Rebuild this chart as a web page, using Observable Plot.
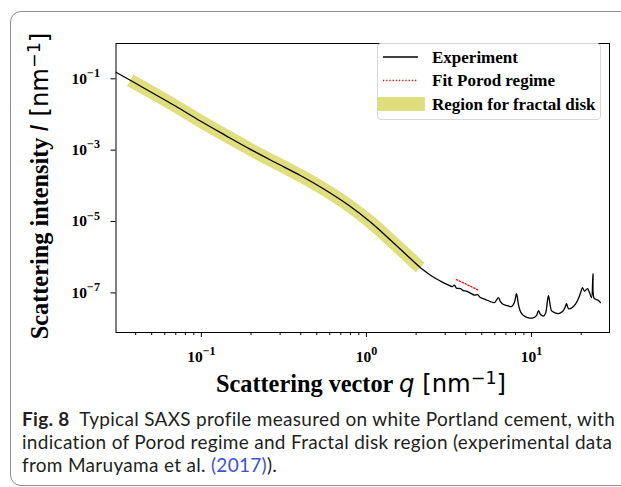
<!DOCTYPE html>
<html><head><meta charset="utf-8">
<script src="https://cdn.jsdelivr.net/npm/d3@7"></script>
<script src="https://cdn.jsdelivr.net/npm/@observablehq/plot@0.6"></script>
<style>
body{margin:0;background:#fff;}
#wrap{position:relative;width:621px;height:487px;overflow:hidden;background:#fff;}
#border{position:absolute;left:10px;top:11px;width:680px;height:475px;border:1.5px solid #8f8f8f;border-radius:11px;box-sizing:border-box;}
#chart{position:absolute;left:0;top:0;}
#legend{position:absolute;left:377px;top:43px;width:224px;height:77px;border:1px solid #d6d6d6;border-radius:4px;background:rgba(255,255,255,0.85);box-sizing:border-box;}
#caption{position:absolute;left:22px;top:407px;white-space:nowrap;font-family:"Lato";font-size:19px;line-height:23px;color:#231f20;letter-spacing:0.3px;}
#caption b{font-weight:bold;}
#caption .ref{color:#3e4fd8;}
</style></head><body>
<div id="wrap"><div id="border"></div><div id="chart"></div><div id="legend"></div>
<div id="caption"><b>Fig. 8</b>&nbsp; Typical SAXS profile measured on white Portland cement, with<br>indication of Porod regime and Fractal disk region (experimental data<br>from Maruyama et al. <span class="ref">(2017)</span>).</div>
</div>
<script>
// Experiment curve: scattering vector q [nm^-1] and intensity I
const expQ = [0.0304,0.0371,0.0491,0.0696,0.0986,0.1398,0.1982,0.2809,0.398,0.5643,0.80,1.057,1.398,1.848,2.215,2.512,2.809,3.097,3.32,3.415,3.512,3.713,3.871,4.037,4.268,4.514,4.707,4.909,5.263,5.643,5.968,6.137,6.31,6.488,6.765,7.155,7.566,7.88,8.11,8.34,8.58,8.94,9.46,10.14,10.72,11.02,11.34,11.82,12.16,12.50,12.68,12.94,13.22,13.79,14.58,15.41,15.96,16.30,16.76,17.47,18.48,19.27,19.95,20.38,20.95,21.85,22.46,23.10,23.59,23.92,24.77,25.47,26.19];
const expI = [0.153,0.0908,0.0435,0.01728,0.00656,0.002606,0.001055,4.50e-4,1.946e-4,7.63e-5,2.63e-5,9.67e-6,3.03e-6,9.16e-7,4.36e-7,2.87e-7,2.14e-7,1.71e-7,1.50e-7,1.66e-7,1.36e-7,1.32e-7,1.16e-7,1.12e-7,9.88e-8,8.68e-8,8.97e-8,7.40e-8,6.50e-8,5.71e-8,5.36e-8,6.3e-8,7.40e-8,5.71e-8,4.71e-8,4.42e-8,4.14e-8,5.36e-8,9.57e-8,4.71e-8,2.99e-8,2.31e-8,2.03e-8,1.97e-8,2.31e-8,3.19e-8,2.47e-8,2.24e-8,2.63e-8,6.1e-8,8.41e-8,5.02e-8,3.19e-8,2.81e-8,2.63e-8,2.99e-8,3.87e-8,5.02e-8,3.63e-8,3.75e-8,4.85e-8,6.93e-8,1.09e-7,1.41e-7,1.12e-7,1.32e-7,1.02e-7,7.40e-8,3.48e-7,7.16e-8,6.50e-8,6.10e-8,5.36e-8];
// Region for fractal disk
const bandQ = [0.0371,0.0491,0.0696,0.0986,0.1398,0.1982,0.2809,0.398,0.5643,0.80,1.057,1.398,1.848,2.12];
const bandI = [0.0908,0.0435,0.01728,0.00656,0.002606,0.001055,4.50e-4,1.946e-4,7.63e-5,2.63e-5,9.67e-6,3.03e-6,9.16e-7,5.13e-7];
// Fit Porod regime
const fitQ = [3.51, 4.1, 4.84];
const fitI = [2.36e-7, 1.68e-7, 1.16e-7];
// Ticks
const xMajor = [0.1, 1, 10];
const xMinor = [0.04,0.05,0.06,0.07,0.08,0.09,0.2,0.3,0.4,0.5,0.6,0.7,0.8,0.9,2,3,4,5,6,7,8,9,20];
const yMajor = [1e-7, 1e-5, 1e-3, 1e-1];

const expData = expQ.map((q,i)=>({q, I: expI[i]}));
const bandData = bandQ.map((q,i)=>({q, I: bandI[i]}));
const fitData = fitQ.map((q,i)=>({q, I: fitI[i]}));
const fmt = d => "10^" + Math.round(Math.log10(d));

const plot = Plot.plot({
  width: 621, height: 400,
  marginLeft: 115.5, marginRight: 12, marginTop: 43, marginBottom: 68,
  x: {type: "log", domain: [0.0304, 29.7]},
  y: {type: "log", domain: [7.76e-9, 0.976]},
  style: {fontFamily: "Liberation Serif", fontWeight: "bold", fontSize: "15.5px", color: "black", background: "transparent", overflow: "visible"},
  marks: [
    Plot.line(bandData, {x: "q", y: "I", stroke: "#dfdf80", strokeWidth: 13, strokeLinecap: "butt", strokeLinejoin: "round", curve: "catmull-rom"}),
    Plot.line(expData, {x: "q", y: "I", stroke: "black", strokeWidth: 1.3, curve: "catmull-rom"}),
    Plot.line(fitData, {x: "q", y: "I", stroke: "red", strokeWidth: 1.3, strokeDasharray: "1.3,1.9"}),
    Plot.frame({stroke: "black", strokeWidth: 1}),
    Plot.axisX({ticks: xMinor, tickSize: 3, tickFormat: () => "", label: null}),
    Plot.axisX({ticks: xMajor, tickSize: 5, tickPadding: 13, tickFormat: fmt, label: null}),
    Plot.axisY({ticks: yMajor, tickSize: 5, tickPadding: 11, tickFormat: fmt, label: null})
  ]
});
document.getElementById("chart").appendChild(plot);

const ns = "http://www.w3.org/2000/svg";
plot.querySelectorAll('g[aria-label$="tick label"] text').forEach(t => {
  const s = t.textContent;
  if (!s.startsWith("10^")) return;
  const e = s.slice(3).replace("-", "\u2212");
  t.textContent = "";
  const a = document.createElementNS(ns, "tspan"); a.textContent = "10"; t.appendChild(a);
  const b = document.createElementNS(ns, "tspan"); b.setAttribute("dy", "-0.55em"); b.setAttribute("font-size", "0.78em"); b.textContent = e; t.appendChild(b);
});

const svg = d3.select(plot);
function axisLabel(sel, word, sym) {
  sel.append("tspan").attr("font-family", "Liberation Serif").attr("font-weight", "bold").text(word);
  sel.append("tspan").attr("font-family", "DejaVu Sans").attr("font-style", "italic").attr("font-weight", "normal").text(sym);
  sel.append("tspan").attr("font-family", "DejaVu Sans").attr("font-weight", "normal").text(" [nm");
  sel.append("tspan").attr("font-family", "DejaVu Sans").attr("font-weight", "normal").attr("dy", "-0.45em").attr("font-size", "0.72em").text("\u22121");
  sel.append("tspan").attr("font-family", "DejaVu Sans").attr("font-weight", "normal").attr("dy", "0.32em").text("]");
}
axisLabel(svg.append("text").attr("x", 361).attr("y", 392).attr("text-anchor", "middle").attr("font-size", 24.3).attr("fill", "black"), "Scattering vector ", "q");
axisLabel(svg.append("text").attr("transform", "translate(48,186) rotate(-90)").attr("text-anchor", "middle").attr("font-size", 24.3).attr("fill", "black"), "Scattering intensity ", "I");

// legend
const legendItems = ["Experiment", "Fit Porod regime", "Region for fractal disk"];
const lg = d3.select("#legend").append("svg").attr("width", 222).attr("height", 75).style("position", "absolute").style("left", "0px").style("top", "0px");
const rowsY = [13, 36.5, 60];
lg.append("line").attr("x1", 5).attr("x2", 40).attr("y1", rowsY[0]).attr("y2", rowsY[0]).attr("stroke", "black").attr("stroke-width", 1.3);
lg.append("line").attr("x1", 5).attr("x2", 40).attr("y1", rowsY[1]).attr("y2", rowsY[1]).attr("stroke", "red").attr("stroke-width", 1.3).attr("stroke-dasharray", "1.3,1.9");
lg.append("rect").attr("x", 0).attr("width", 47).attr("y", rowsY[2] - 7).attr("height", 14).attr("fill", "#dfdf80");
legendItems.forEach((s, i) => {
  lg.append("text").attr("x", 54).attr("y", rowsY[i]).attr("dy", "0.35em").attr("font-family", "Liberation Serif").attr("font-weight", "bold").attr("font-size", 17).attr("fill", "black").text(s);
});
</script>
</body></html>
